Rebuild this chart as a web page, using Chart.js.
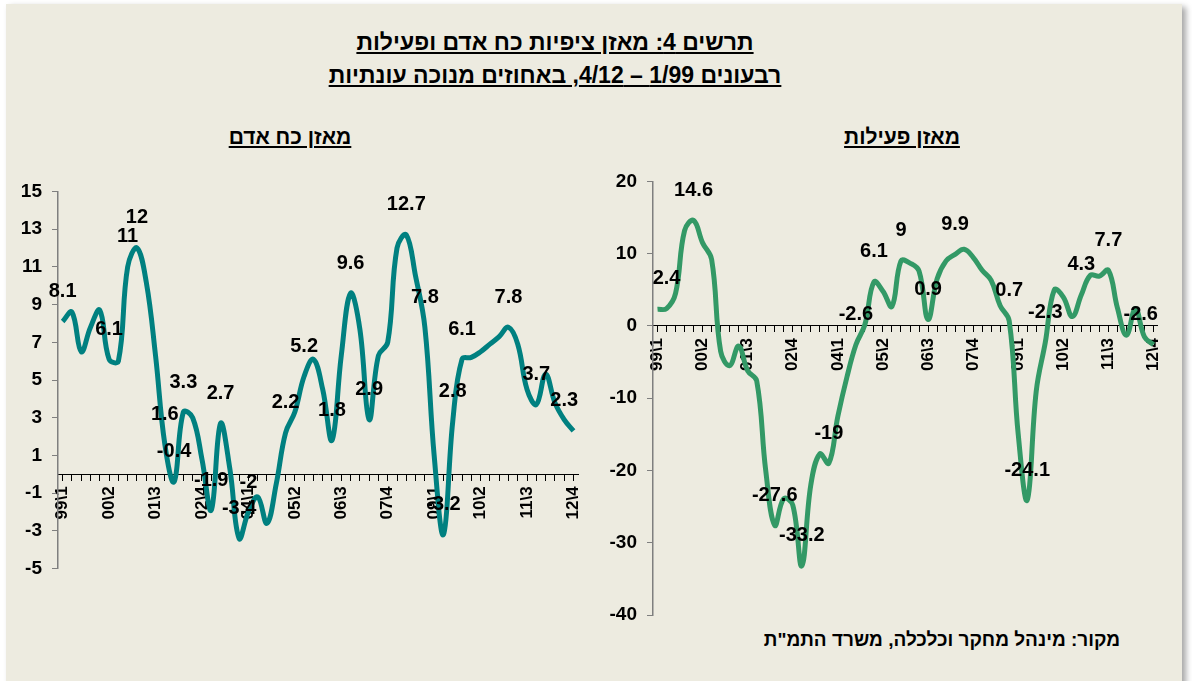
<!DOCTYPE html>
<html lang="he">
<head>
<meta charset="utf-8">
<script src="https://cdn.jsdelivr.net/npm/chart.js@4/dist/chart.umd.min.js"></script>
<style>
  body { margin: 0; width: 1192px; height: 681px; overflow: hidden; background: #fff;
         font-family: "Liberation Sans", Arial, sans-serif; }
  #frame { position: absolute; left: 6px; top: 4px; width: 1176px; height: 700px;
           background: #EDEBE0; box-shadow: 4px 3px 6px rgba(0,0,0,0.35); }
  .t { position: absolute; direction: rtl; text-align: center; font-weight: bold; color: #000; }
  .u { text-decoration: underline; }
  canvas { position: absolute; }
</style>
</head>
<body>
<div id="frame"></div>
<div class="t u" style="left:0; width:1110px; top:26px; font-size:23px; line-height:33px;">תרשים 4: מאזן ציפיות כח אדם ופעילות<br>רבעונים 1/99 – 4/12, באחוזים מנוכה עונתיות</div>
<div class="t u" style="left:140px; width:300px; top:125px; font-size:21px;">מאזן כח אדם</div>
<div class="t u" style="left:752px; width:300px; top:125px; font-size:21px;">מאזן פעילות</div>
<div class="t" style="left:600px; width:520px; top:629px; font-size:19px; text-align:right;">מקור: מינהל מחקר וכלכלה, משרד התמ"ת</div>

<canvas id="chartLeft" width="600" height="420" style="left:0; top:170px;"></canvas>
<canvas id="chartRight" width="580" height="480" style="left:600px; top:160px;"></canvas>

<script>
"use strict";

// 1: data
const years = ['99', '00', '01', '02', '03', '04', '05', '06', '07', '08', '09', '10', '11', '12'];
const quarters = [1, 2, 3, 4];

// מאזן כח אדם
const manpower = [
  8.1, 8.6, 6.5, 7.8, 8.7, 6.1, 6.0, 11, 12, 10.2,
  6.3, 1.6, -0.4, 3.3, 3.0, 0.8, -1.9, 2.7, 0.3, -3.4,
  -2, -1.2, -2.6, -0.5, 2.2, 3.3, 5.2, 6.1, 4.5, 1.8,
  6.3, 9.6, 7.7, 2.9, 6.3, 7.0, 12.0, 12.7, 10.5, 7.8,
  1.0, -3.2, 2.8, 6.1, 6.2, 6.5, 6.9, 7.3, 7.8, 6.9,
  4.5, 3.7, 5.3, 3.8, 2.9, 2.3
];
const manpowerLabelIdx = [0, 5, 7, 8, 11, 12, 13, 16, 17, 19, 20, 24, 26, 29, 31, 33, 37, 39, 41, 42, 43, 48, 51, 55];

// מאזן פעילות
const activity = [
  2.3, 2.4, 4.5, 13.2, 14.6, 11.5, 9.2, -3.5, -5.5, -2.8,
  -6.2, -7.6, -20, -27.6, -23.9, -24.8, -33.2, -22, -17.7, -19,
  -12.5, -7.1, -2.6, 0.2, 6.1, 4.8, 2.7, 9, 8.7, 7.6,
  0.9, 6.5, 9.0, 9.9, 10.6, 9.5, 7.7, 6.3, 2.8, 0.7,
  -15, -24.1, -9, -2.3, 5.0, 4.0, 1.3, 4.3, 7.0, 6.9,
  7.7, 2.5, -1.3, 2.4, -1.5, -2.6
];
const activityLabelIdx = [1, 4, 13, 16, 19, 22, 24, 27, 30, 33, 39, 41, 43, 47, 50, 55];

// tick ranges: [min, max, step]
const manpowerTicks = [-5, 15, 2];
const activityTicks = [-40, 20, 10];

// 2: categories "99\1" ... "12\4"
function buildQuarters() {
  let out = [];
  for (const y of years) {
    for (const q of quarters) {
      out.push(y + '\\' + q);
    }
  }
  return out;
}
const categories = buildQuarters();

const FONT = '"Liberation Sans", Arial, sans-serif';

// data labels above the chosen points
const valueLabels = {
  id: 'valueLabels',
  afterDatasetsDraw(chart, args, opts) {
    const ctx = chart.ctx;
    const meta = chart.getDatasetMeta(0);
    const values = chart.data.datasets[0].data;
    const xs = chart.scales.x;
    ctx.save();
    ctx.font = 'bold 20px ' + FONT;
    ctx.fillStyle = '#000';
    ctx.textAlign = 'center';
    ctx.textBaseline = 'middle';
    for (const i of opts.indices) {
      const pt = meta.data[i];
      const text = String(values[i]);
      const w = ctx.measureText(text).width;
      const x = Math.min(pt.x, xs.right - w / 2);
      ctx.fillText(text, x, pt.y - 30);
    }
    ctx.restore();
  }
};

// 3: create the charts
function appendChart(id, values, color, ticks, labelIdx, yWidth, padding) {
  const el = document.getElementById(id);
  return new Chart(el, {
    type: 'line',
    data: {
      labels: categories,
      datasets: [{
        data: values,
        borderColor: color,
        borderWidth: 5,
        pointRadius: 0,
        tension: 0.4,
        fill: false
      }]
    },
    plugins: [valueLabels],
    options: {
      responsive: false,
      animation: false,
      layout: { padding: padding },
      plugins: {
        legend: { display: false },
        tooltip: { enabled: false },
        valueLabels: { indices: labelIdx }
      },
      scales: {
        x: {
          type: 'category',
          offset: true,
          position: { y: 0 },
          border: { display: true, color: '#000', width: 1 },
          grid: { drawOnChartArea: false, drawTicks: true, tickLength: 6, color: '#000' },
          ticks: {
            autoSkip: false,
            maxRotation: 90,
            minRotation: 90,
            padding: 6,
            color: '#000',
            font: { family: FONT, size: 17, weight: 'bold' },
            callback: function (v, i) { return i % 5 === 0 ? categories[i] : ''; }
          }
        },
        y: {
          min: ticks[0],
          max: ticks[1],
          border: { display: true, color: '#7f7f7f', width: 1.5 },
          grid: { drawOnChartArea: false, drawTicks: true, tickLength: 6, color: '#7f7f7f' },
          ticks: {
            stepSize: ticks[2],
            padding: 10,
            color: '#000',
            font: { family: FONT, size: 19, weight: 'bold' }
          },
          afterFit: function (scale) { scale.width = yWidth; }
        }
      }
    }
  });
}

appendChart('chartLeft', manpower, '#008080', manpowerTicks, manpowerLabelIdx, 58,
  { top: 21, bottom: 18, left: 0, right: 13 });
appendChart('chartRight', activity, '#339966', activityTicks, activityLabelIdx, 53,
  { top: 20, bottom: 25, left: 0, right: 13 });
</script>
</body>
</html>
